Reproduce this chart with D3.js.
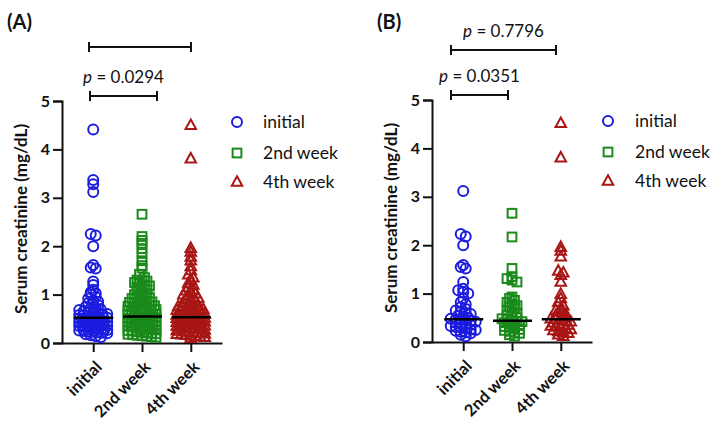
<!DOCTYPE html>
<html>
<head>
<meta charset="utf-8">
<script src="https://cdn.jsdelivr.net/npm/d3@7"></script>
<style>
  html, body { margin: 0; padding: 0; background: #fff; }
  svg { display: block; font-family: Lato, "Open Sans", sans-serif; }
</style>
</head>
<body>
<svg id="chart" width="717" height="431"></svg>
<script>
// ---------------- DATA ----------------
const categories = ["initial", "2nd week", "4th week"];
const yTicks = [0, 1, 2, 3, 4, 5];

// Panel A
const A_initial = [4.41, 3.37, 3.28, 3.12, 2.25, 2.22, 2.0, 1.61, 1.56, 1.54, 1.27, 1.2, 1.1, 1.05, 1.03, 1.0,
  0.95, 0.92, 0.88, 0.85, 0.82, 0.8, 0.78, 0.75, 0.72, 0.7, 0.7, 0.68, 0.66, 0.65, 0.63, 0.62, 0.6, 0.6, 0.58,
  0.57, 0.56, 0.55, 0.54, 0.53, 0.52, 0.52, 0.51, 0.5, 0.5, 0.49, 0.48, 0.47, 0.46, 0.45, 0.45, 0.44, 0.43,
  0.42, 0.41, 0.4, 0.4, 0.39, 0.38, 0.37, 0.36, 0.35, 0.35, 0.34, 0.33, 0.32, 0.31, 0.3, 0.3, 0.29, 0.28,
  0.27, 0.26, 0.25, 0.24, 0.23, 0.22, 0.21, 0.2, 0.18, 0.16, 0.14, 0.12];
const A_week2 = [2.66, 2.2, 2.12, 2.06, 1.95, 1.85, 1.7, 1.6, 1.55, 1.42, 1.35, 1.3, 1.3, 1.28, 1.25, 1.22, 1.2,
  1.18, 1.15, 1.12, 1.1, 1.08, 1.05, 1.02, 1.0, 0.98, 0.96, 0.94, 0.92, 0.9, 0.88, 0.86, 0.85, 0.84, 0.82, 0.8,
  0.8, 0.78, 0.77, 0.76, 0.75, 0.74, 0.72, 0.7, 0.7, 0.69, 0.68, 0.67, 0.66, 0.65, 0.64, 0.63, 0.62, 0.61, 0.6,
  0.6, 0.59, 0.58, 0.57, 0.56, 0.55, 0.55, 0.54, 0.53, 0.52, 0.51, 0.5, 0.5, 0.49, 0.48, 0.47, 0.46, 0.45, 0.45,
  0.44, 0.43, 0.42, 0.41, 0.4, 0.4, 0.39, 0.38, 0.37, 0.36, 0.35, 0.35, 0.34, 0.33, 0.32, 0.31, 0.3, 0.3, 0.29,
  0.28, 0.27, 0.26, 0.25, 0.24, 0.23, 0.22, 0.21, 0.2, 0.19, 0.18, 0.17, 0.16, 0.15, 0.14, 0.13, 0.12];
const A_week4 = [4.5, 3.81, 1.96, 1.88, 1.78, 1.7, 1.58, 1.5, 1.41, 1.35, 1.3, 1.24, 1.2, 1.15, 1.1, 1.08, 1.05,
  1.02, 1.0, 0.98, 0.95, 0.93, 0.9, 0.88, 0.86, 0.84, 0.82, 0.8, 0.78, 0.76, 0.75, 0.74, 0.72, 0.7, 0.7, 0.68,
  0.67, 0.66, 0.65, 0.64, 0.62, 0.61, 0.6, 0.6, 0.58, 0.57, 0.56, 0.55, 0.54, 0.53, 0.52, 0.51, 0.5, 0.5, 0.49,
  0.48, 0.47, 0.46, 0.45, 0.44, 0.43, 0.42, 0.41, 0.4, 0.4, 0.39, 0.38, 0.37, 0.36, 0.35, 0.34, 0.33, 0.32, 0.31,
  0.3, 0.3, 0.29, 0.28, 0.27, 0.26, 0.25, 0.24, 0.23, 0.22, 0.21, 0.2, 0.19, 0.18, 0.17, 0.16, 0.15, 0.14, 0.13,
  0.12, 0.1];
const A_medians = [0.52, 0.55, 0.53];

// Panel B
const B_initial = [3.12, 2.23, 2.18, 2.0, 1.59, 1.55, 1.52, 1.24, 1.1, 1.07, 1.03, 1.0, 0.9, 0.82, 0.78, 0.72,
  0.68, 0.65, 0.62, 0.6, 0.58, 0.55, 0.52, 0.5, 0.48, 0.47, 0.46, 0.45, 0.44, 0.42, 0.4, 0.38, 0.36, 0.35, 0.33,
  0.31, 0.3, 0.28, 0.26, 0.25, 0.23, 0.21, 0.2, 0.18, 0.15, 0.12];
const B_week2 = [2.66, 2.17, 1.52, 1.35, 1.31, 1.28, 1.24, 0.93, 0.9, 0.86, 0.82, 0.78, 0.75, 0.72, 0.7, 0.66,
  0.62, 0.6, 0.56, 0.54, 0.5, 0.48, 0.46, 0.44, 0.43, 0.42, 0.4, 0.38, 0.36, 0.34, 0.32, 0.3, 0.28, 0.26, 0.24,
  0.22, 0.2, 0.18, 0.15, 0.12];
const B_week4 = [4.52, 3.81, 1.96, 1.88, 1.76, 1.47, 1.43, 1.38, 1.24, 0.99, 0.9, 0.82, 0.75, 0.7, 0.66, 0.62,
  0.58, 0.55, 0.52, 0.5, 0.48, 0.47, 0.46, 0.44, 0.42, 0.4, 0.38, 0.36, 0.35, 0.33, 0.31, 0.3, 0.28, 0.26, 0.24,
  0.22, 0.2, 0.18, 0.15, 0.12];
const B_medians = [0.47, 0.44, 0.47];

const colors = ["#1c1ce0", "#1a8a1a", "#a81616"];
const shapes = ["circle", "square", "triangle"];

// ---------------- DRAW ----------------
const svg = d3.select("#chart");

const panels = [
  { label: "(A)", labelX: 7, ox: 62, axisEnd: 222, y0: 343, y5: 101, ylabX: 22, legX: 237, legTextX: 263,
    series: [A_initial, A_week2, A_week4], medians: A_medians,
    brackets: [ { x1: 89, x2: 191, y: 47, text: null }, { x1: 90, x2: 157, y: 96, text: "0.0294" } ] },
  { label: "(B)", labelX: 377, ox: 432, axisEnd: 592, y0: 342, y5: 100, ylabX: 392, legX: 608, legTextX: 635,
    series: [B_initial, B_week2, B_week4], medians: B_medians,
    brackets: [ { x1: 451, x2: 556, y: 50, text: "0.7796" }, { x1: 451, x2: 508, y: 95, text: "0.0351" } ] }
];

function swarm(values, y, cx, binPx, dx, maxHalf) {
  const bins = new Map();
  values.forEach(v => {
    const k = Math.round(y(v) / binPx);
    if (!bins.has(k)) bins.set(k, []);
    bins.get(k).push(v);
  });
  const out = [];
  bins.forEach(arr => {
    const n = arr.length;
    let step = dx;
    if ((n - 1) * step / 2 > maxHalf) step = (2 * maxHalf) / (n - 1);
    arr.forEach((v, i) => {
      out.push({ v, x: cx + (i - (n - 1) / 2) * step, y: y(v) });
    });
  });
  return out;
}

function drawMarker(g, shape, x, y, color, r) {
  if (shape === "circle") {
    g.append("circle").attr("cx", x).attr("cy", y).attr("r", r)
      .attr("fill", "none").attr("stroke", color).attr("stroke-width", 2);
  } else if (shape === "square") {
    const s = r * 1.75;
    g.append("rect").attr("x", x - s / 2).attr("y", y - s / 2).attr("width", s).attr("height", s)
      .attr("fill", "none").attr("stroke", color).attr("stroke-width", 2);
  } else {
    const h = r * 1.9;
    const w = r * 2.1;
    g.append("path")
      .attr("d", `M${x},${y - h * 0.6}L${x + w / 2},${y + h * 0.4}L${x - w / 2},${y + h * 0.4}Z`)
      .attr("fill", "none").attr("stroke", color).attr("stroke-width", 2).attr("stroke-linejoin", "miter");
  }
}

panels.forEach(p => {
  const g = svg.append("g");
  const y = d3.scaleLinear().domain([0, 5]).range([p.y0, p.y5]);
  const x = d3.scalePoint().domain(categories).range([p.ox, p.axisEnd]).padding(0.64);

  // Panel label
  g.append("text").attr("x", p.labelX).attr("y", 29).attr("font-size", 20).attr("font-weight", 700)
    .attr("fill", "#111").text(p.label);

  // Y axis
  const ya = g.append("g").attr("transform", `translate(${p.ox},0)`)
    .call(d3.axisLeft(y).tickValues(yTicks).tickSize(9).tickPadding(3).tickFormat(d3.format("d")));
  ya.select(".domain").attr("stroke", "#111").attr("stroke-width", 2);
  ya.selectAll(".tick line").attr("stroke", "#111").attr("stroke-width", 2);
  ya.selectAll(".tick text").attr("font-size", 16).attr("font-weight", 700).attr("fill", "#111")
    .attr("font-family", "Lato, sans-serif");

  // X axis
  const xa = g.append("g").attr("transform", `translate(0,${p.y0})`)
    .call(d3.axisBottom(x).tickSize(9).tickSizeOuter(0));
  xa.select(".domain").attr("stroke", "#111").attr("stroke-width", 2);
  xa.selectAll(".tick line").attr("stroke", "#111").attr("stroke-width", 2);
  xa.selectAll(".tick text").attr("font-size", 16.5).attr("font-weight", 700).attr("fill", "#111")
    .attr("font-family", "Lato, sans-serif")
    .attr("text-anchor", "end").attr("dy", "0.35em")
    .attr("transform", "translate(5,21) rotate(-45)").attr("x", 0).attr("y", 0);

  // Y label
  g.append("text")
    .attr("transform", `translate(${p.ylabX + 5},${(p.y0 + p.y5) / 2 - 3}) rotate(-90)`)
    .attr("text-anchor", "middle").attr("font-size", 17).attr("font-weight", 700).attr("fill", "#111")
    .text("Serum creatinine (mg/dL)");

  // Points
  const pg = g.append("g");
  p.series.forEach((vals, i) => {
    const pts = swarm(vals, y, x(categories[i]), 4, 5, 14);
    pts.forEach(d => drawMarker(pg, shapes[i], d.x, d.y, colors[i], 5));
  });

  // Medians
  p.medians.forEach((m, i) => {
    g.append("line").attr("x1", x(categories[i]) - 19).attr("x2", x(categories[i]) + 20)
      .attr("y1", y(m)).attr("y2", y(m)).attr("stroke", "#000").attr("stroke-width", 2.5);
  });

  // Brackets
  p.brackets.forEach(b => {
    const bg = g.append("g").attr("stroke", "#111").attr("stroke-width", 2);
    bg.append("line").attr("x1", b.x1).attr("x2", b.x2).attr("y1", b.y).attr("y2", b.y);
    bg.append("line").attr("x1", b.x1).attr("x2", b.x1).attr("y1", b.y - 5).attr("y2", b.y + 5);
    bg.append("line").attr("x1", b.x2).attr("x2", b.x2).attr("y1", b.y - 5).attr("y2", b.y + 5);
    if (b.text) {
      const t = g.append("text").attr("x", (b.x1 + b.x2) / 2).attr("y", b.y - 13)
        .attr("text-anchor", "middle").attr("font-size", 17).attr("fill", "#111");
      t.append("tspan").attr("font-style", "italic").text("p");
      t.append("tspan").text(" = " + b.text);
    }
  });

  // Legend
  const legY = [p.y5 + 21, p.y5 + 52, p.y5 + 81];
  categories.forEach((c, i) => {
    drawMarker(g, shapes[i], p.legX, legY[i], colors[i], 5);
    g.append("text").attr("x", p.legTextX).attr("y", legY[i]).attr("dy", "0.35em")
      .attr("font-size", 17.5).attr("fill", "#111").text(c);
  });
});
</script>
</body>
</html>
